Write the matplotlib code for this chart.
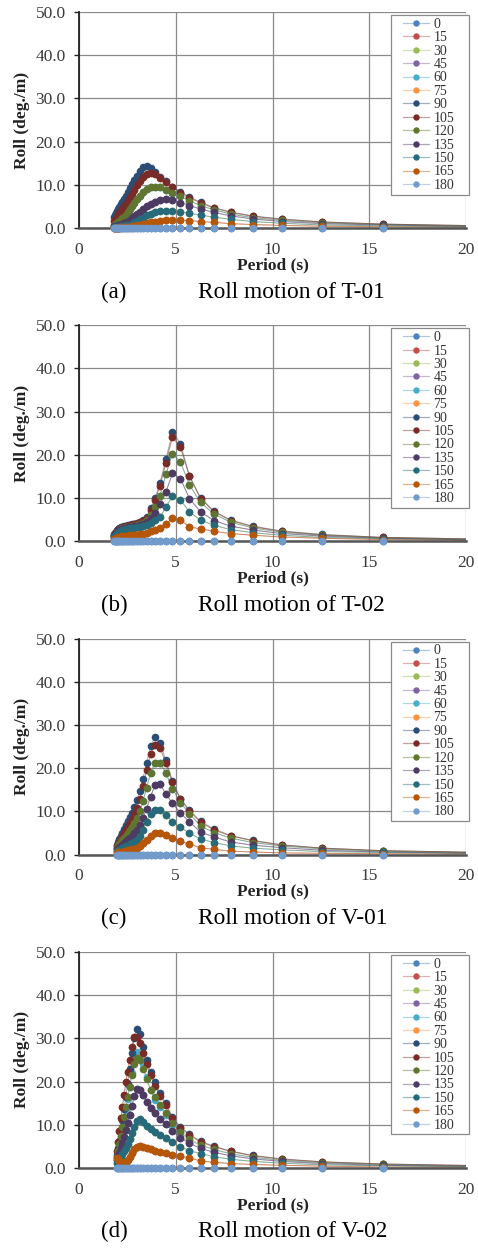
import matplotlib

matplotlib.use("Agg")
import matplotlib.pyplot as plt
from matplotlib.colors import to_rgba
from matplotlib.lines import Line2D
from matplotlib.patches import Rectangle

HEADINGS = [0, 15, 30, 45, 60, 75, 90, 105, 120, 135, 150, 165, 180]
COLORS = ["#4F81BD", "#C0504D", "#9BBB59", "#8064A2", "#4BACC6", "#F79646", "#2C4D75",
          "#772C2A", "#5F7530", "#4D3B62", "#276A7C", "#B65708", "#729ACA"]

# wave periods (s)
PERIOD_AB = [1.80, 1.85, 1.90, 1.96, 2.03, 2.09, 2.17, 2.24, 2.33, 2.42, 2.51, 2.62, 2.73, 2.86, 2.99, 3.14, 3.31,
             3.49, 3.70, 3.93, 4.19, 4.49, 4.83, 5.24, 5.71, 6.28, 6.98, 7.85, 8.98, 10.47, 12.57, 15.71, 20.94]
PERIOD_CD = [1.96, 2.03, 2.09, 2.17, 2.24, 2.33, 2.42, 2.51, 2.62, 2.73, 2.86, 2.99, 3.14, 3.31,
             3.49, 3.70, 3.93, 4.19, 4.49, 4.83, 5.24, 5.71, 6.28, 6.98, 7.85, 8.98, 10.47, 12.57, 15.71, 20.94]

ZERO_AB = [0.0, 0.0, 0.0, 0.0, 0.0, 0.0, 0.0, 0.0, 0.0, 0.0, 0.0, 0.0, 0.0, 0.0, 0.0, 0.0, 0.0,
           0.0, 0.0, 0.0, 0.0, 0.0, 0.0, 0.0, 0.0, 0.0, 0.0, 0.0, 0.0, 0.0, 0.0, 0.0, 0.0]
ZERO_CD = [0.0, 0.0, 0.0, 0.0, 0.0, 0.0, 0.0, 0.0, 0.0, 0.0, 0.0, 0.0, 0.0, 0.0,
           0.0, 0.0, 0.0, 0.0, 0.0, 0.0, 0.0, 0.0, 0.0, 0.0, 0.0, 0.0, 0.0, 0.0, 0.0, 0.0]

# (a) T-01
A_090 = [2.6, 3.0, 3.4, 3.9, 4.4, 4.9, 5.5, 6.1, 6.8, 7.5, 8.3, 9.2, 10.1, 11.1, 12.1, 13.2, 14.1,
         14.3, 13.9, 13.0, 11.9, 10.8, 9.6, 8.4, 7.2, 6.0, 4.7, 3.7, 2.8, 2.1, 1.4, 0.9, 0.5]
A_105 = [1.6, 1.9, 2.2, 2.6, 3.0, 3.4, 3.9, 4.4, 5.0, 5.6, 6.3, 7.1, 7.9, 8.9, 9.9, 10.9, 11.9,
         12.6, 12.8, 12.4, 11.6, 10.6, 9.5, 8.2, 7.0, 5.8, 4.6, 3.6, 2.7, 2.0, 1.4, 0.9, 0.5]
A_120 = [0.8, 0.9, 1.0, 1.2, 1.4, 1.6, 1.9, 2.2, 2.6, 3.1, 3.6, 4.3, 5.0, 5.8, 6.6, 7.5, 8.3,
         9.0, 9.5, 9.6, 9.4, 8.9, 8.2, 7.3, 6.3, 5.2, 4.2, 3.2, 2.4, 1.8, 1.2, 0.8, 0.4]
A_135 = [0.4, 0.4, 0.5, 0.5, 0.6, 0.7, 0.8, 0.9, 1.1, 1.3, 1.5, 1.8, 2.2, 2.7, 3.2, 3.8, 4.4,
         5.0, 5.6, 6.1, 6.5, 6.6, 6.4, 5.9, 5.2, 4.4, 3.6, 2.8, 2.1, 1.5, 1.0, 0.7, 0.3]
A_150 = [0.2, 0.2, 0.2, 0.3, 0.3, 0.3, 0.4, 0.4, 0.5, 0.6, 0.7, 0.8, 1.0, 1.3, 1.6, 2.0, 2.4,
         2.9, 3.3, 3.7, 3.9, 4.0, 4.0, 3.8, 3.4, 3.0, 2.5, 2.0, 1.5, 1.1, 0.7, 0.5, 0.2]
A_165 = [0.1, 0.1, 0.1, 0.1, 0.1, 0.1, 0.2, 0.2, 0.2, 0.2, 0.3, 0.3, 0.4, 0.5, 0.6, 0.7, 0.9,
         1.1, 1.3, 1.5, 1.7, 1.8, 1.8, 1.8, 1.7, 1.5, 1.3, 1.0, 0.8, 0.6, 0.4, 0.3, 0.1]

# (b) T-02
B_090 = [1.6, 1.9, 2.2, 2.5, 2.8, 3.0, 3.2, 3.4, 3.5, 3.6, 3.7, 3.8, 3.9, 4.0, 4.2, 4.5, 4.9,
         5.7, 7.6, 10.0, 13.6, 19.0, 25.3, 22.6, 15.2, 10.1, 7.0, 4.9, 3.5, 2.4, 1.6, 0.9, 0.5]
B_105 = [1.5, 1.8, 2.1, 2.4, 2.7, 2.9, 3.1, 3.3, 3.4, 3.5, 3.6, 3.7, 3.8, 3.9, 4.1, 4.4, 4.8,
         5.5, 7.2, 9.5, 12.9, 18.2, 24.2, 21.8, 15.0, 9.9, 6.8, 4.8, 3.4, 2.3, 1.5, 0.9, 0.5]
B_120 = [1.3, 1.5, 1.8, 2.1, 2.4, 2.6, 2.8, 3.0, 3.1, 3.2, 3.3, 3.4, 3.5, 3.6, 3.8, 4.0, 4.3,
         4.9, 6.2, 8.0, 10.6, 15.5, 20.3, 18.4, 13.0, 9.0, 6.3, 4.4, 3.1, 2.1, 1.4, 0.8, 0.4]
B_135 = [1.2, 1.4, 1.7, 2.0, 2.3, 2.5, 2.7, 2.9, 3.0, 3.1, 3.2, 3.3, 3.4, 3.5, 3.6, 3.8, 4.0,
         4.4, 5.3, 6.6, 8.6, 11.4, 15.7, 14.5, 9.9, 6.8, 4.8, 3.5, 2.6, 1.8, 1.2, 0.7, 0.3]
B_150 = [1.0, 1.2, 1.4, 1.7, 2.0, 2.2, 2.4, 2.6, 2.7, 2.8, 2.9, 3.0, 3.0, 3.1, 3.2, 3.3, 3.5,
         3.8, 4.3, 5.0, 5.6, 7.9, 10.4, 9.6, 6.8, 4.9, 3.7, 2.7, 2.0, 1.4, 0.9, 0.6, 0.3]
B_165 = [0.5, 0.6, 0.7, 0.8, 0.9, 1.0, 1.1, 1.2, 1.2, 1.3, 1.3, 1.4, 1.4, 1.5, 1.5, 1.6, 1.7,
         2.0, 2.3, 2.6, 3.1, 3.9, 5.5, 5.0, 3.3, 2.9, 2.3, 1.8, 1.4, 1.0, 0.7, 0.4, 0.2]

# (c) V-01
C_090 = [2.3, 2.9, 3.5, 4.3, 5.1, 6.0, 6.9, 7.8, 8.7, 9.7, 11.0, 12.6, 14.7, 17.6,
         21.3, 25.2, 27.2, 25.9, 21.8, 17.0, 12.9, 10.3, 7.7, 5.9, 4.4, 3.3, 2.3, 1.5, 0.9, 0.5]
C_105 = [2.0, 2.5, 3.0, 3.6, 4.3, 5.0, 5.8, 6.6, 7.4, 8.3, 9.5, 10.9, 12.9, 15.8,
         19.5, 23.4, 25.4, 24.7, 21.2, 16.8, 12.8, 10.1, 7.5, 5.7, 4.3, 3.2, 2.2, 1.5, 0.9, 0.5]
C_120 = [1.6, 2.0, 2.4, 2.8, 3.3, 3.8, 4.4, 5.0, 5.6, 6.3, 7.2, 8.4, 10.0, 12.4,
         15.4, 18.9, 21.3, 21.3, 18.8, 15.3, 12.0, 9.5, 6.6, 5.1, 3.8, 2.8, 2.0, 1.3, 0.8, 0.4]
C_135 = [1.2, 1.4, 1.7, 2.0, 2.3, 2.7, 3.1, 3.5, 3.9, 4.4, 5.0, 5.8, 6.9, 8.5,
         10.6, 13.4, 16.2, 16.3, 14.0, 11.9, 9.6, 7.6, 5.2, 4.1, 2.9, 2.2, 1.6, 1.0, 0.6, 0.3]
C_150 = [0.8, 0.9, 1.1, 1.3, 1.5, 1.7, 1.9, 2.1, 2.4, 2.7, 3.0, 3.4, 4.4, 5.8,
         7.5, 9.4, 10.3, 10.4, 9.2, 7.6, 6.3, 5.0, 3.6, 2.8, 2.0, 1.5, 1.1, 0.7, 0.5, 0.2]
C_165 = [0.4, 0.5, 0.5, 0.6, 0.7, 0.8, 0.9, 1.0, 1.1, 1.2, 1.3, 1.5, 2.0, 2.6,
         3.4, 4.2, 4.9, 5.0, 4.5, 3.8, 3.1, 2.4, 1.6, 1.2, 0.8, 0.6, 0.4, 0.3, 0.2, 0.1]

# (d) V-02
D_060 = [2.6, 4.0, 5.4, 7.2, 9.0, 11.2, 13.5, 16.0, 18.8, 22.0, 25.0, 26.8, 26.2, 24.0,
         21.0, 18.0, 15.8, 14.0, 12.2, 10.0, 8.0, 6.4, 5.2, 4.2, 3.2, 2.4, 1.7, 1.2, 0.8, 0.4]
D_090 = [3.0, 4.5, 6.3, 8.5, 11.0, 13.7, 16.5, 19.5, 22.8, 26.5, 30.0, 32.2, 31.0, 28.0,
         25.0, 22.3, 19.8, 17.3, 15.0, 11.8, 9.5, 7.8, 6.2, 5.0, 3.9, 2.9, 2.1, 1.4, 0.9, 0.5]
D_105 = [4.0, 6.0, 8.5, 11.5, 14.0, 16.8, 19.8, 22.3, 25.0, 28.0, 30.2, 30.4, 29.0, 26.5,
         24.0, 21.5, 19.0, 16.7, 14.5, 11.5, 9.3, 7.6, 6.0, 4.9, 3.8, 2.8, 2.0, 1.4, 0.9, 0.5]
D_120 = [2.5, 4.0, 5.5, 7.5, 9.5, 11.8, 14.0, 16.3, 18.8, 21.5, 24.0, 25.5, 25.0, 23.0,
         20.5, 18.0, 16.3, 14.5, 12.6, 10.3, 8.2, 6.6, 5.3, 4.3, 3.3, 2.5, 1.8, 1.2, 0.8, 0.4]
D_135 = [1.8, 2.6, 3.5, 4.6, 5.8, 7.2, 8.7, 10.3, 12.2, 14.3, 16.6, 18.2, 18.0, 16.8,
         15.2, 13.8, 12.6, 11.4, 10.2, 8.5, 7.0, 5.7, 4.5, 3.6, 2.8, 2.1, 1.5, 1.0, 0.6, 0.3]
D_150 = [1.2, 1.6, 2.0, 2.6, 3.2, 3.9, 4.7, 5.6, 6.7, 8.0, 9.4, 10.8, 11.3, 10.7,
         9.8, 9.0, 8.3, 7.6, 6.9, 5.9, 4.8, 4.0, 3.3, 2.6, 2.0, 1.5, 1.1, 0.7, 0.5, 0.2]
D_165 = [2.2, 2.0, 1.6, 1.3, 1.1, 1.1, 1.3, 1.8, 2.6, 3.5, 4.3, 4.9, 5.1, 4.9,
         4.6, 4.3, 4.0, 3.7, 3.4, 3.0, 2.7, 2.3, 1.6, 1.3, 1.0, 0.8, 0.6, 0.4, 0.2, 0.1]

# following-sea headings lie under their mirrored head-sea curves
PANELS = [
    ("(a)", "Roll motion of T-01", PERIOD_AB,
     [ZERO_AB, A_165, A_150, A_135, A_120, A_105, A_090, A_105, A_120, A_135, A_150, A_165, ZERO_AB]),
    ("(b)", "Roll motion of T-02", PERIOD_AB,
     [ZERO_AB, B_165, B_150, B_135, B_120, B_105, B_090, B_105, B_120, B_135, B_150, B_165, ZERO_AB]),
    ("(c)", "Roll motion of V-01", PERIOD_CD,
     [ZERO_CD, C_165, C_150, C_135, C_120, C_105, C_090, C_105, C_120, C_135, C_150, C_165, ZERO_CD]),
    ("(d)", "Roll motion of V-02", PERIOD_CD,
     [ZERO_CD, D_165, D_150, D_135, D_060, D_105, D_090, D_105, D_120, D_135, D_150, D_165, ZERO_CD]),
]

W, H = 478, 1249
SERIF = "Liberation Serif"
PITCH = 313.3
MS = 5.5

fig = plt.figure(figsize=(W / 100, H / 100), dpi=100)
legends = []

for k, (tag, caption, period, series) in enumerate(PANELS):
    top = 12 + PITCH * k
    bottom = 228 + PITCH * k
    ax = fig.add_axes([79 / W, 1 - bottom / H, 387 / W, (bottom - top) / H])

    handles = []
    for heading, color, values in zip(HEADINGS, COLORS, series):
        line_col = to_rgba(color, 0.45)
        ax.plot(period, values, color=line_col, lw=0.7, zorder=2)
        shown = [(p, v) for p, v in zip(period, values) if p <= 20]
        ax.plot([p for p, _ in shown], [v for _, v in shown], ls="none", marker="o", ms=MS,
                mfc=color, mec=color, mew=0, clip_on=False, zorder=3)
        handles.append(Line2D([], [], color=line_col, lw=0.9, marker="o", ms=4.6,
                              mfc=color, mec=color, mew=0, label=str(heading)))

    ax.set_xlim(0, 20)
    ax.set_ylim(0, 50)
    ax.set_xticks([0, 5, 10, 15, 20])
    ax.set_yticks([0, 10, 20, 30, 40, 50])
    ax.set_yticklabels([f"{v:.1f}" for v in [0, 10, 20, 30, 40, 50]])
    ax.grid(True, color="#8a8a8a", lw=0.9, zorder=0)
    ax.set_axisbelow(True)
    for side in ("top", "right"):
        ax.spines[side].set_visible(False)
    ax.spines["left"].set_color("#222222")
    ax.spines["left"].set_linewidth(1.3)
    ax.spines["bottom"].set_color("#555555")
    ax.spines["bottom"].set_linewidth(1.8)
    ax.tick_params(axis="y", direction="out", length=3.5, width=1.0, color="#222222", pad=6,
                   labelsize=12.5, labelcolor="#3a3a3a")
    ax.tick_params(axis="x", length=0, pad=10, labelsize=12.5, labelcolor="#3a3a3a")
    for lab in ax.get_xticklabels() + ax.get_yticklabels():
        lab.set_fontfamily(SERIF)

    leg = ax.legend(handles=handles, loc="upper right", bbox_to_anchor=((457 - 79) / 387, 0.986),
                    prop={"family": SERIF, "size": 10}, frameon=False,
                    borderpad=0.2, labelspacing=0.03, handlelength=1.9, handletextpad=0.3,
                    borderaxespad=0.0)
    for txt in leg.get_texts():
        txt.set_color("#333333")
    legends.append((ax, leg))

    fig.text(22 / W, 1 - (top + bottom) / 2 / H, "Roll (deg./m)", rotation=90, ha="center",
             va="center", family=SERIF, fontsize=12.5, fontweight="bold", color="#222222")
    fig.text(272.5 / W, 1 - (265 + PITCH * k) / H, "Period (s)", ha="center", va="center",
             family=SERIF, fontsize=12.5, fontweight="bold", color="#222222")
    fig.text(114 / W, 1 - (292 + PITCH * k) / H, tag, ha="center", va="center",
             family=SERIF, fontsize=16.5, color="black")
    fig.text(198 / W, 1 - (292 + PITCH * k) / H, caption, ha="left", va="center",
             family=SERIF, fontsize=16.8, color="black")

# legend frame: wide side padding, tight top/bottom, like the source figure
fig.canvas.draw()
for ax, leg in legends:
    bb = leg.get_window_extent().transformed(fig.transFigure.inverted())
    frame = Rectangle((bb.x0 - 9 / W, bb.y0), bb.width + 21 / W, bb.height,
                      transform=fig.transFigure, facecolor="white", edgecolor="#8a8a8a",
                      lw=0.9, zorder=4.9, clip_on=False)
    ax.add_patch(frame)

fig.savefig("out.png", dpi=100, facecolor="white")
